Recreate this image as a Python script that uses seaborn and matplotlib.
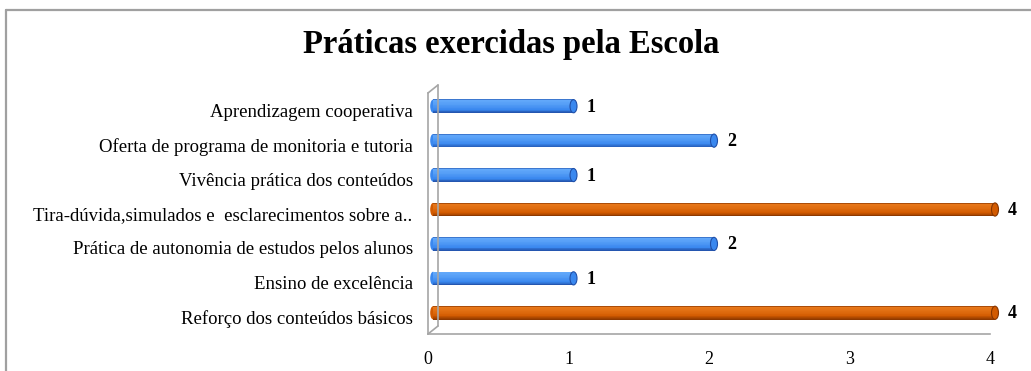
import numpy as np
import matplotlib
matplotlib.use("Agg")
import matplotlib.pyplot as plt
import matplotlib.transforms as mtransforms
from matplotlib.lines import Line2D
from matplotlib.patches import Ellipse
import seaborn as sns

# Data (top to bottom as shown)
categories = [
    "Aprendizagem cooperativa",
    "Oferta de programa de monitoria e tutoria",
    "Vivência prática dos conteúdos",
    "Tira-dúvida,simulados e  esclarecimentos sobre a..",
    "Prática de autonomia de estudos pelos alunos",
    "Ensino de excelência",
    "Reforço dos conteúdos básicos",
]
values = [1, 2, 1, 4, 2, 1, 4]
x_ticks = [0, 1, 2, 3, 4]
title = "Práticas exercidas pela Escola"

BLUE = {"base": "#3a88ef", "light": "#62a8fa", "dark": "#2150a8", "edge": "#2a5fb8"}
ORANGE = {"base": "#d25a00", "light": "#e8781a", "dark": "#863500", "edge": "#8a3600"}
palette = [ORANGE if v == max(values) else BLUE for v in values]

sns.set_theme(style="white")
plt.rcParams["font.family"] = ["Liberation Serif", "DejaVu Serif"]

W, H = 1031, 371
fig = plt.figure(figsize=(W / 100, H / 100), dpi=100)
fig.patch.set_facecolor("white")

# plot area in pixel geometry
ax_l, ax_r, ax_t, ax_b = 428, 990, 93, 334
ax = fig.add_axes([ax_l / W, 1 - ax_b / H, (ax_r - ax_l) / W, (ax_b - ax_t) / H])
ax.set_facecolor("none")

bar_h = 0.39
sns.barplot(x=values, y=categories, hue=categories,
            palette=[p["base"] for p in palette],
            orient="h", width=bar_h, legend=False, ax=ax, saturation=1,
            linewidth=0)

ax.set_xlim(0, 4)
ax.set_ylim(6.5, -0.5)

# 3D depth shift for the bars (half depth of the back wall)
depth_dx, depth_dy = 10, 8
shift = mtransforms.ScaledTranslation(depth_dx / 2 / 100, depth_dy / 2 / 100,
                                      fig.dpi_scale_trans)
bar_trans = ax.transData + shift
for p in ax.patches:
    p.set_transform(bar_trans)
    p.set_zorder(3)
    p.set_clip_on(False)


def mix(c1, c2, t):
    a = np.array(matplotlib.colors.to_rgb(c1))
    b = np.array(matplotlib.colors.to_rgb(c2))
    return tuple(a + (b - a) * t)


def shade(pal, t):
    if t < 0.08:
        return mix(pal["edge"], pal["light"], t / 0.08)
    if t < 0.35:
        return mix(pal["light"], pal["base"], (t - 0.08) / 0.27 * 0.3)
    if t < 0.75:
        return mix(pal["light"], pal["base"], 0.3 + (t - 0.35) / 0.4 * 0.7)
    return mix(pal["base"], pal["dark"], (t - 0.75) / 0.25)


# cylinder shading: horizontal slices from top to bottom of each bar
n_slices = 18
cap_w = 7 / 140.5
for i, (v, pal) in enumerate(zip(values, palette)):
    top = i - bar_h / 2
    sh = bar_h / n_slices
    # rounded start of the cylinder
    ax.add_patch(Ellipse((0, i), cap_w * 0.8, bar_h * 0.98, facecolor=pal["base"],
                         edgecolor="none", transform=bar_trans, zorder=3.5,
                         clip_on=False))
    for k in range(n_slices):
        t = (k + 0.5) / n_slices
        bars = ax.barh(top + (k + 0.5) * sh, v, height=sh * 1.05, left=0,
                       color=shade(pal, t), linewidth=0, transform=bar_trans,
                       zorder=4)
        for b in bars:
            b.set_clip_on(False)
    # rounded end cap
    ax.add_patch(Ellipse((v, i), cap_w, bar_h * 0.98, facecolor=pal["base"],
                         edgecolor=pal["dark"], linewidth=0.8,
                         transform=bar_trans, zorder=5, clip_on=False))
    # value label
    ax.text(v, i, str(v), transform=bar_trans + mtransforms.ScaledTranslation(
        0.13, -0.01, fig.dpi_scale_trans), ha="left", va="center",
        fontsize=13, fontweight="bold", color="black", zorder=6, clip_on=False)

# axes styling
grey = "#a6a6a6"
for s in ["top", "right"]:
    ax.spines[s].set_visible(False)
for s in ["left", "bottom"]:
    ax.spines[s].set_color(grey)
    ax.spines[s].set_linewidth(1.2)

ax.set_xticks(x_ticks)
ax.set_xticklabels([str(t) for t in x_ticks])
ax.tick_params(axis="x", direction="out", length=5, width=1, color=grey,
               labelsize=13, pad=7, labelcolor="black")
ax.set_yticks(range(len(categories)))
ax.set_yticklabels(categories)
ax.tick_params(axis="y", which="major", length=0, pad=11, labelsize=13.5,
               labelcolor="black")
ax.set_yticks(np.arange(-0.5, len(categories)), minor=True)
ax.tick_params(axis="y", which="minor", direction="out", length=5, width=1,
               color=grey)
ax.set_xlabel("")
ax.set_ylabel("")

# back wall of the 3D plot
fx = lambda px: px / W
fy = lambda py: 1 - py / H
wall = [
    ([ax_l + depth_dx, ax_l + depth_dx], [ax_t - depth_dy, ax_b - depth_dy]),
    ([ax_l, ax_l + depth_dx], [ax_t, ax_t - depth_dy]),
    ([ax_l, ax_l + depth_dx], [ax_b, ax_b - depth_dy]),
]
for xs, ys in wall:
    fig.add_artist(Line2D([fx(x) for x in xs], [fy(y) for y in ys],
                          color=grey, linewidth=1.2, zorder=1))

# chart frame
fig.add_artist(Line2D([fx(6), fx(1031)], [fy(10), fy(10)], color="#a0a0a0", linewidth=1.6))
fig.add_artist(Line2D([fx(6), fx(6)], [fy(10), fy(371)], color="#a0a0a0", linewidth=1.6))

fig.text(fx(511), fy(45), title, ha="center", va="center", fontsize=23.5,
         fontweight="bold", color="black")

fig.savefig("out.png", dpi=100, facecolor="white")
